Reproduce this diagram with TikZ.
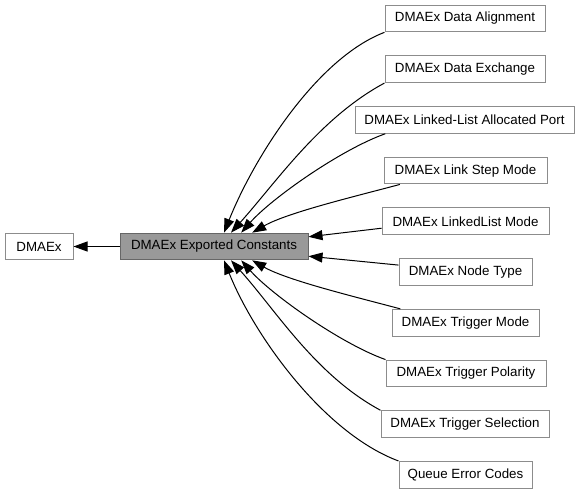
\documentclass[tikz,border=0pt]{standalone}
\usepackage{fontspec}
\setmainfont{Liberation Sans}
\usetikzlibrary{calc,arrows.meta}

\begin{document}
\begin{tikzpicture}[x=0.75pt,y=-0.75pt,
    boite/.style={draw=black!45, line width=0.75pt, fill=white, minimum height=20pt, inner sep=0pt, font=\fontsize{10}{12}\selectfont},
    fleche/.style={-{Triangle[length=10.5pt,width=7.5pt]}, line width=0.75pt}]
      \useasboundingbox (0,0) rectangle (581,493);

      % BOITES GAUCHE
      \node[boite, minimum width=51pt] (DMA) at (39,246.5) {DMAEx};
      \node[boite, fill=black!40, draw=black!60, minimum width=141pt] (EXP) at (214,246.5) {DMAEx Exported Constants};

      % BOITES DROITE
      \node[boite, minimum width=120pt] (ALIG) at (465,18.5) {DMAEx Data Alignment};
      \node[boite, minimum width=120pt] (EXCH) at (465,69.2) {DMAEx Data Exchange};
      \node[boite, minimum width=164.25pt] (PORT) at (464.5,119.9) {DMAEx Linked-List Allocated Port};
      \node[boite, minimum width=122.25pt] (STEP) at (465.5,170.6) {DMAEx Link Step Mode};
      \node[boite, minimum width=125.25pt] (LLM) at (465.5,221.3) {DMAEx LinkedList Mode};
      \node[boite, minimum width=99.75pt] (NODE) at (465.5,272) {DMAEx Node Type};
      \node[boite, minimum width=110.25pt] (TRIGM) at (465.5,322.7) {DMAEx Trigger Mode};
      \node[boite, minimum width=120pt] (POL) at (466,373.4) {DMAEx Trigger Polarity};
      \node[boite, minimum width=126pt] (SEL) at (465,424.1) {DMAEx Trigger Selection};
      \node[boite, minimum width=99.75pt] (QUEUE) at (465.5,474.8) {Queue Error Codes};

      % DEPARTS
      \coordinate (S3) at ($ (PORT.south west)!.14!(PORT.south east) $);
      \coordinate (S4) at ($ (STEP.south west)!.1!(STEP.south east) $);
      \coordinate (S5) at ($ (LLM.west)!.5!(LLM.south west) $);
      \coordinate (S6) at ($ (NODE.west)!.5!(NODE.north west) $);
      \coordinate (S7) at ($ (TRIGM.north west)!.06!(TRIGM.north east) $);

      % ARRIVEES
      \coordinate (T1) at ($ (EXP.north west)!.553!(EXP.north east) $);
      \coordinate (T2) at ($ (EXP.north west)!.59!(EXP.north east) $);
      \coordinate (T3) at ($ (EXP.north west)!.644!(EXP.north east) $);
      \coordinate (T4) at ($ (EXP.north west)!.702!(EXP.north east) $);
      \coordinate (T5) at ($ (EXP.north east)!.15!(EXP.south east) $);
      \coordinate (T6) at ($ (EXP.north east)!.85!(EXP.south east) $);
      \coordinate (T7) at ($ (EXP.south west)!.702!(EXP.south east) $);
      \coordinate (T8) at ($ (EXP.south west)!.644!(EXP.south east) $);
      \coordinate (T9) at ($ (EXP.south west)!.59!(EXP.south east) $);
      \coordinate (T10) at ($ (EXP.south west)!.553!(EXP.south east) $);

      % FLECHES
      \draw[fleche] (EXP) -- (DMA);
      \draw[fleche] (ALIG.south west) .. controls +(-68,26) and +(30,-75) .. (T1);
      \draw[fleche] (EXCH.south west) .. controls +(-65,35) and +(45,-50) .. (T2);
      \draw[fleche] (S3) .. controls +(-45,16) and +(30,-34) .. (T3);
      \draw[fleche] (S4) .. controls +(-45,12) and +(35,-20) .. (T4);
      \draw[fleche] (S5) -- (T5);
      \draw[fleche] (S6) -- (T6);
      \draw[fleche] (S7) .. controls +(-45,-12) and +(35,20) .. (T7);
      \draw[fleche] (POL.north west) .. controls +(-45,-16) and +(30,34) .. (T8);
      \draw[fleche] (SEL.north west) .. controls +(-65,-35) and +(45,50) .. (T9);
      \draw[fleche] (QUEUE.north west) .. controls +(-75,-28) and +(30,75) .. (T10);
\end{tikzpicture}
\end{document}
